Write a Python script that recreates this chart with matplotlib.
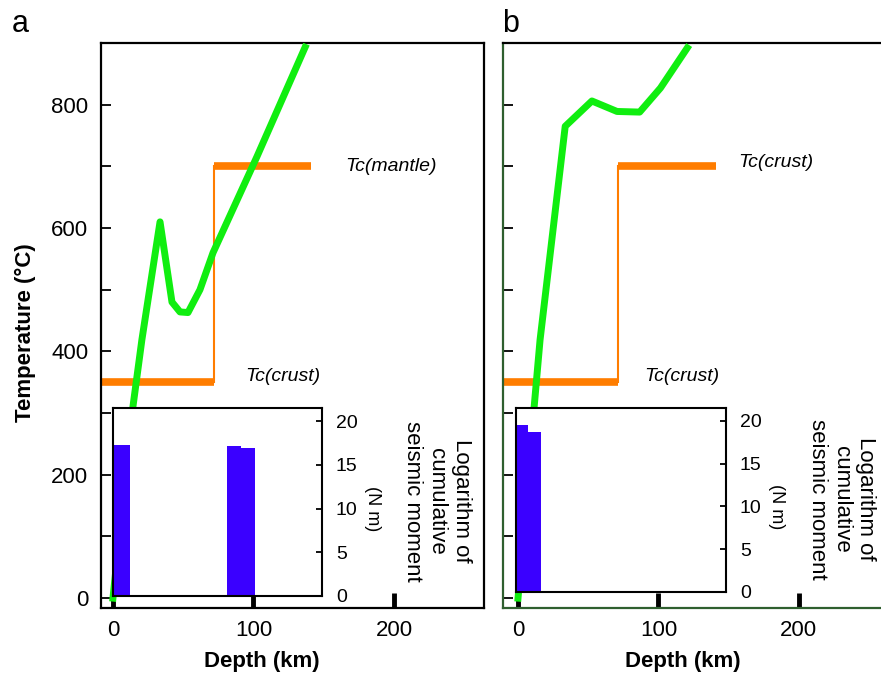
import matplotlib
matplotlib.use("Agg")
import matplotlib.pyplot as plt
from matplotlib.ticker import MultipleLocator

plt.rcParams['font.family'] = ['Liberation Sans', 'DejaVu Sans']

# ---------------- data ----------------
# Panel a: temperature profile (depth km, temperature C)
depth_a = [0, 14.2, 20.6, 33.5, 42, 47.7, 53.4, 61.9, 71.2, 102.5, 136.7]
temp_a = [0, 310, 419, 610, 480, 464, 463, 500, 560, 716, 893]
# Panel b
depth_b = [0, 11.4, 15.7, 33.6, 52.6, 70.5, 86.6, 101.4, 120.5]
temp_b = [0, 308, 419, 765, 806, 789, 788, 827, 892]

# Tc step (depth, temperature)
tc_depth_a = [-8, 72, 72, 141]
tc_temp_a = [350, 350, 700, 700]
tc_depth_b = [-10, 71, 71, 141]
tc_temp_b = [350, 350, 700, 700]

# Cumulative seismic moment bars (left edge, right edge, log10 moment)
bar_left_a = [0, 81.4, 91.4]
bar_right_a = [12.4, 91.4, 101.1]
bar_val_a = [17.3, 17.2, 16.9]
bar_left_b = [0, 8.8, 80, 90]
bar_right_b = [8.8, 17.4, 90, 100]
bar_val_b = [19.5, 18.7, 0.15, 0.15]

labels_a = [("Tc(mantle)", 165, 700), ("Tc(crust)", 94, 359)]
labels_b = [("Tc(crust)", 157, 706), ("Tc(crust)", 90, 359)]

# ---------------- figure ----------------
W, H = 881, 674
fig = plt.figure(figsize=(W / 100, H / 100), dpi=100)

def fx(px):
    return px / W

def fy(py):
    return 1 - py / H

GREEN = '#10ee10'
ORANGE = '#ff7d00'
BLUE = '#3a00ff'

def main_panel(left_px, depth, temp, tcd, tct, labels, show_ylabels, spine_color):
    ax = fig.add_axes([fx(left_px), fy(608), fx(383), 565 / H])
    ax.set_xlim(-8.5, 264)
    ax.set_ylim(-16, 900)
    # Tc step: thick horizontals, thin vertical
    ax.plot(tcd[0:2], tct[0:2], color=ORANGE, lw=5.5, solid_capstyle='butt', zorder=2)
    ax.plot(tcd[1:3], tct[1:3], color=ORANGE, lw=1.5, zorder=2)
    ax.plot(tcd[2:4], tct[2:4], color=ORANGE, lw=5.5, solid_capstyle='butt', zorder=2)
    ax.plot(depth, temp, color=GREEN, lw=5, solid_joinstyle='round', zorder=3)
    for t, x, y in labels:
        ax.text(x, y, t, fontsize=14, style='italic', va='center', ha='left')
    ax.yaxis.set_major_locator(MultipleLocator(200))
    ax.yaxis.set_minor_locator(MultipleLocator(100))
    ax.set_xticks([0, 100, 200])
    ax.tick_params(axis='y', which='both', direction='in', length=7, width=1.3,
                   labelsize=16, pad=9, labelleft=show_ylabels)
    ax.tick_params(axis='x', which='major', direction='in', length=11, width=3.5,
                   labelsize=16, pad=9)
    for s in ax.spines.values():
        s.set_linewidth(1.6)
    if spine_color:
        ax.spines['left'].set_color(spine_color)
        ax.spines['bottom'].set_color(spine_color)
    ax.set_xlabel('Depth (km)', fontsize=16, fontweight='bold', labelpad=7)
    return ax

def inset(left_px, right_px, bottom_px, bl, br, bv):
    ia = fig.add_axes([fx(left_px), fy(bottom_px), fx(right_px - left_px), (bottom_px - 408) / H])
    widths = [r - l for l, r in zip(bl, br)]
    ia.bar(bl, bv, width=widths, align='edge', color=BLUE, edgecolor='none')
    ia.set_xlim(0, 149)
    ia.set_ylim(0, 21.5)
    ia.set_yticks([0, 5, 10, 15, 20])
    ia.set_xticks([])
    ia.yaxis.tick_right()
    ia.tick_params(axis='y', direction='in', length=4, width=1.3, labelsize=14, pad=10,
                   labelleft=False, left=False)
    for s in ia.spines.values():
        s.set_linewidth(1.5)
    ia.text(1.24, 0.466, '(N m)', transform=ia.transAxes, rotation=270, fontsize=13,
            ha='center', va='center')
    ia.text(1.55, 0.505, 'Logarithm of\ncumulative\nseismic moment', transform=ia.transAxes,
            rotation=270, fontsize=16, ha='center', va='center', multialignment='center',
            linespacing=1.2)
    return ia

ax_a = main_panel(101, depth_a, temp_a, tc_depth_a, tc_temp_a, labels_a, True, None)
ax_a.set_ylabel('Temperature (\u00b0C)', fontsize=16, fontweight='bold', labelpad=11)
ax_a.yaxis.label.set_y(0.487)
ax_a.xaxis.label.set_x(0.42)
ax_b = main_panel(503, depth_b, temp_b, tc_depth_b, tc_temp_b, labels_b, False, '#2f5f2f')
ax_b.set_xlim(-10.7, 262)
ax_b.xaxis.label.set_x(0.47)

inset(113, 322, 596, bar_left_a, bar_right_a, bar_val_a)
inset(516, 726, 592, bar_left_b, bar_right_b, bar_val_b)

fig.text(fx(12), fy(32), 'a', fontsize=22, va='baseline', ha='left')
fig.text(fx(502), fy(32), 'b', fontsize=22, va='baseline', ha='left')

fig.savefig('out.png', dpi=100)
